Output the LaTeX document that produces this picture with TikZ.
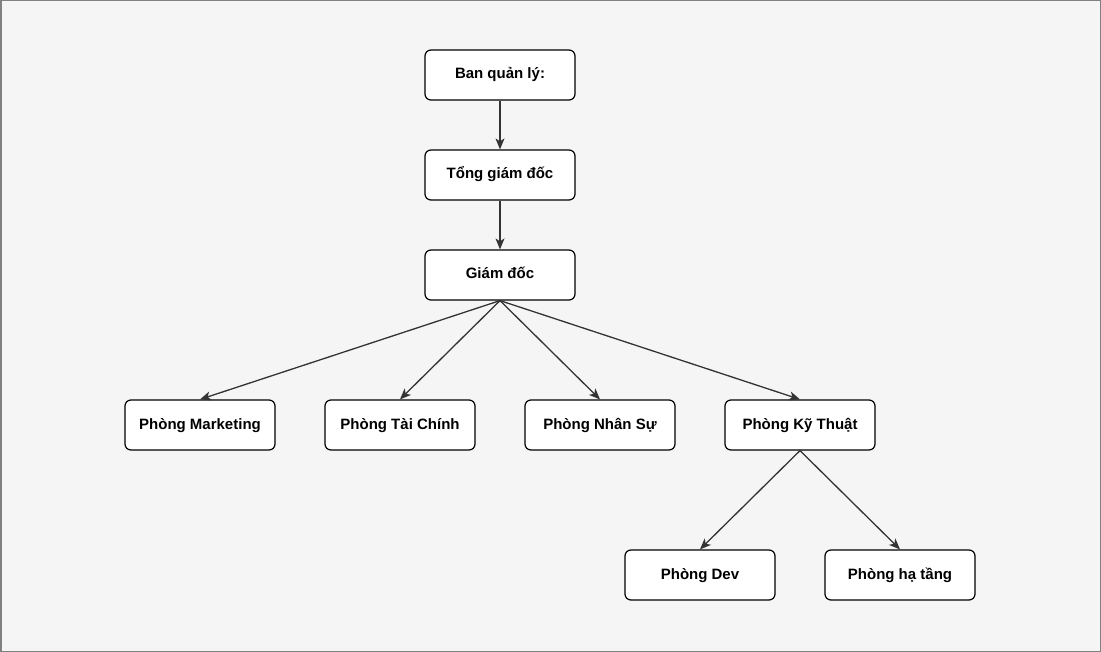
\documentclass[tikz,border=0pt]{standalone}
\usepackage{fontspec}
\setmainfont{Liberation Sans}
\usetikzlibrary{arrows.meta}
\begin{document}
\begin{tikzpicture}[x=1pt,y=-1pt,
  box/.style={draw=black,line width=1.2pt,fill=white,rounded corners=6pt,minimum width=150pt,minimum height=50pt,inner sep=0pt,text height=11pt,text depth=3pt,font=\fontsize{15}{18}\selectfont\bfseries},
  conn/.style={draw=black!80,line width=1.3pt,-{Stealth[length=11pt,width=9pt,inset=3pt]}}]
\useasboundingbox (0,0) rectangle (1101,652);
\fill[fill=black!4] (0,0) rectangle (1101,652);
\draw[draw=black!50,line width=1.5pt] (0.75,0.75) rectangle (1100.25,651.25);
\node[box] (bql) at (500,75) {Ban quản lý:};
\node[box] (tgd) at (500,175) {Tổng giám đốc};
\node[box] (gd) at (500,275) {Giám đốc};
\node[box] (mk) at (200,425) {Phòng Marketing};
\node[box] (tc) at (400,425) {Phòng Tài Chính};
\node[box] (ns) at (600,425) {Phòng Nhân Sự};
\node[box] (kt) at (800,425) {Phòng Kỹ Thuật};
\node[box] (dev) at (700,575) {Phòng Dev};
\node[box] (ht) at (900,575) {Phòng hạ tầng};
\draw[conn] (bql.south) -- (tgd.north);
\draw[conn] (tgd.south) -- (gd.north);
\draw[conn] (gd.south) -- (mk.north);
\draw[conn] (gd.south) -- (tc.north);
\draw[conn] (gd.south) -- (ns.north);
\draw[conn] (gd.south) -- (kt.north);
\draw[conn] (kt.south) -- (dev.north);
\draw[conn] (kt.south) -- (ht.north);
\end{tikzpicture}
\end{document}
